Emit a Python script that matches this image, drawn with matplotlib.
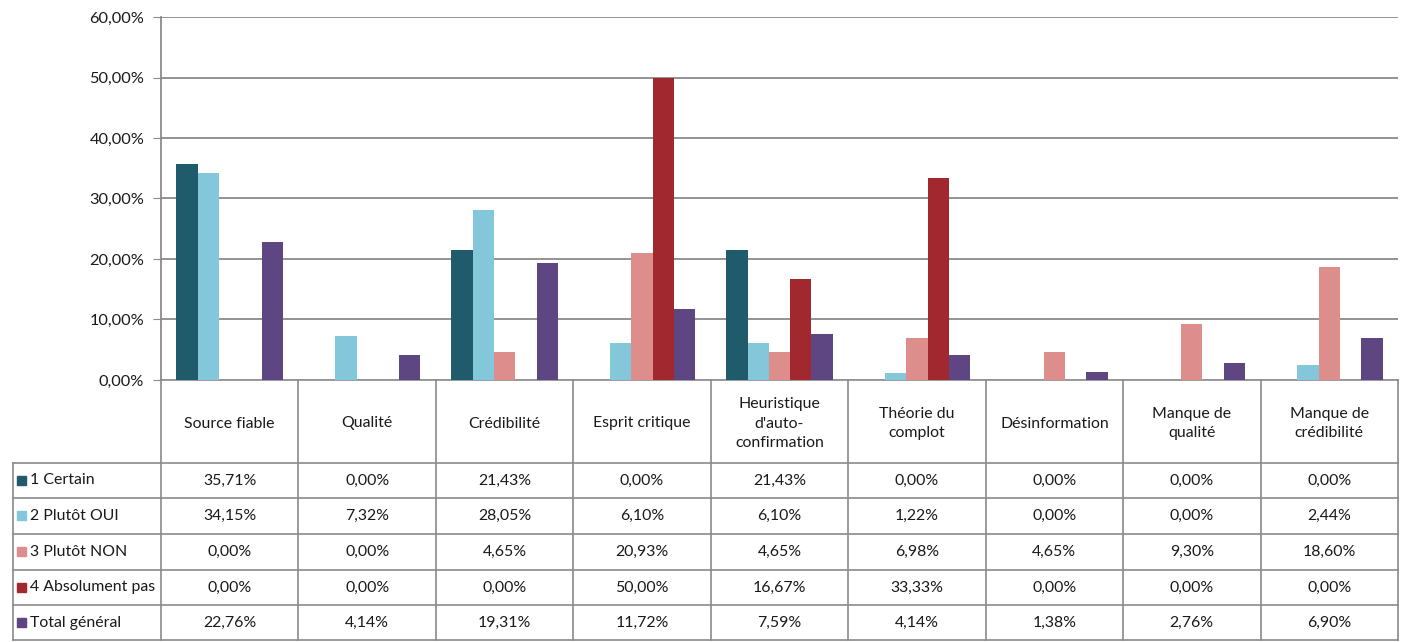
import matplotlib
matplotlib.use('Agg')
import matplotlib.pyplot as plt
import matplotlib.transforms as mtransforms
import numpy as np

plt.rcParams['font.family'] = ['Lato', 'DejaVu Sans']

# data
categories = ["Source fiable", "Qualité", "Crédibilité", "Esprit critique",
              "Heuristique\nd'auto-\nconfirmation", "Théorie du\ncomplot",
              "Désinformation", "Manque de\nqualité", "Manque de\ncrédibilité"]
series_names = ["1 Certain", "2 Plutôt OUI", "3 Plutôt NON", "4 Absolument pas", "Total général"]
certain = [35.71, 0.00, 21.43, 0.00, 21.43, 0.00, 0.00, 0.00, 0.00]
plutot_oui = [34.15, 7.32, 28.05, 6.10, 6.10, 1.22, 0.00, 0.00, 2.44]
plutot_non = [0.00, 0.00, 4.65, 20.93, 4.65, 6.98, 4.65, 9.30, 18.60]
absolument_pas = [0.00, 0.00, 0.00, 50.00, 16.67, 33.33, 0.00, 0.00, 0.00]
total = [22.76, 4.14, 19.31, 11.72, 7.59, 4.14, 1.38, 2.76, 6.90]
yticks = [0, 10, 20, 30, 40, 50, 60]

series = [certain, plutot_oui, plutot_non, absolument_pas, total]
colors = ["#1f5b6b", "#84c6da", "#dd8e8c", "#a0282e", "#5d4681"]

W, H = 1410, 642
fig = plt.figure(figsize=(W / 100, H / 100), dpi=100)
# overlay in pixel coords for the data table
tax = fig.add_axes([0, 0, 1, 1])
tax.set_xlim(0, W)
tax.set_ylim(H, 0)
tax.axis('off')

left, right, top, bottom = 161, 1398, 17, 380
ax = fig.add_axes([left / W, 1 - bottom / H, (right - left) / W, (bottom - top) / H])

n = len(categories)
x = np.arange(n)
bw = 0.155
for i, (vals, c) in enumerate(zip(series, colors)):
    ax.bar(x + (i - 2) * bw, vals, width=bw, color=c, zorder=3)

ax.set_xlim(-0.5, n - 0.5)
ax.set_ylim(0, 60)
ax.set_yticks(yticks)
ax.set_yticklabels([f"{v:.2f}%".replace('.', ',') for v in yticks], fontsize=11.8, color='#1a1a1a')
ax.set_xticks([])
ax.grid(axis='y', color='#8a8a8a', linewidth=1.3, zorder=0)
for s in ['top', 'right', 'bottom']:
    ax.spines[s].set_visible(False)
ax.spines['left'].set_color('#8a8a8a')
ax.spines['left'].set_linewidth(1.3)
ax.tick_params(axis='y', length=6, color='#8a8a8a', pad=6, direction='out')

# data table
tr = mtransforms.blended_transform_factory(ax.transData, tax.transData)
lc = '#8a8a8a'
lw = 1.2
rows_y = [463, 498, 534, 570, 605, 640]
header_top = bottom
tab_left = 13

# horizontal lines
tax.plot([left, right], [header_top, header_top], color=lc, lw=lw)
for yy in rows_y:
    tax.plot([tab_left, right], [yy, yy], color=lc, lw=lw)
# vertical lines
tax.plot([tab_left, tab_left], [rows_y[0], rows_y[-1]], color=lc, lw=lw)
for b in np.arange(n + 1) - 0.5:
    ax.plot([b, b], [header_top, rows_y[-1]], color=lc, lw=lw, transform=tr, clip_on=False)

# header labels
for i, cat in enumerate(categories):
    ax.text(i, (header_top + rows_y[0]) / 2 + 2, cat, transform=tr, ha='center', va='center',
            fontsize=11.4, color='#1a1a1a', linespacing=1.5)

# rows
for r, (name, vals, c) in enumerate(zip(series_names, series, colors)):
    yc = (rows_y[r] + rows_y[r + 1]) / 2
    tax.add_patch(plt.Rectangle((17, yc - 5), 9, 9, color=c))
    tax.text(30, yc, name, ha='left', va='center', fontsize=11.4, color='#1a1a1a')
    for i, v in enumerate(vals):
        ax.text(i, yc, f"{v:.2f}%".replace('.', ','), transform=tr, ha='center', va='center',
                fontsize=11.4, color='#1a1a1a')

fig.savefig("out.png", dpi=100)
